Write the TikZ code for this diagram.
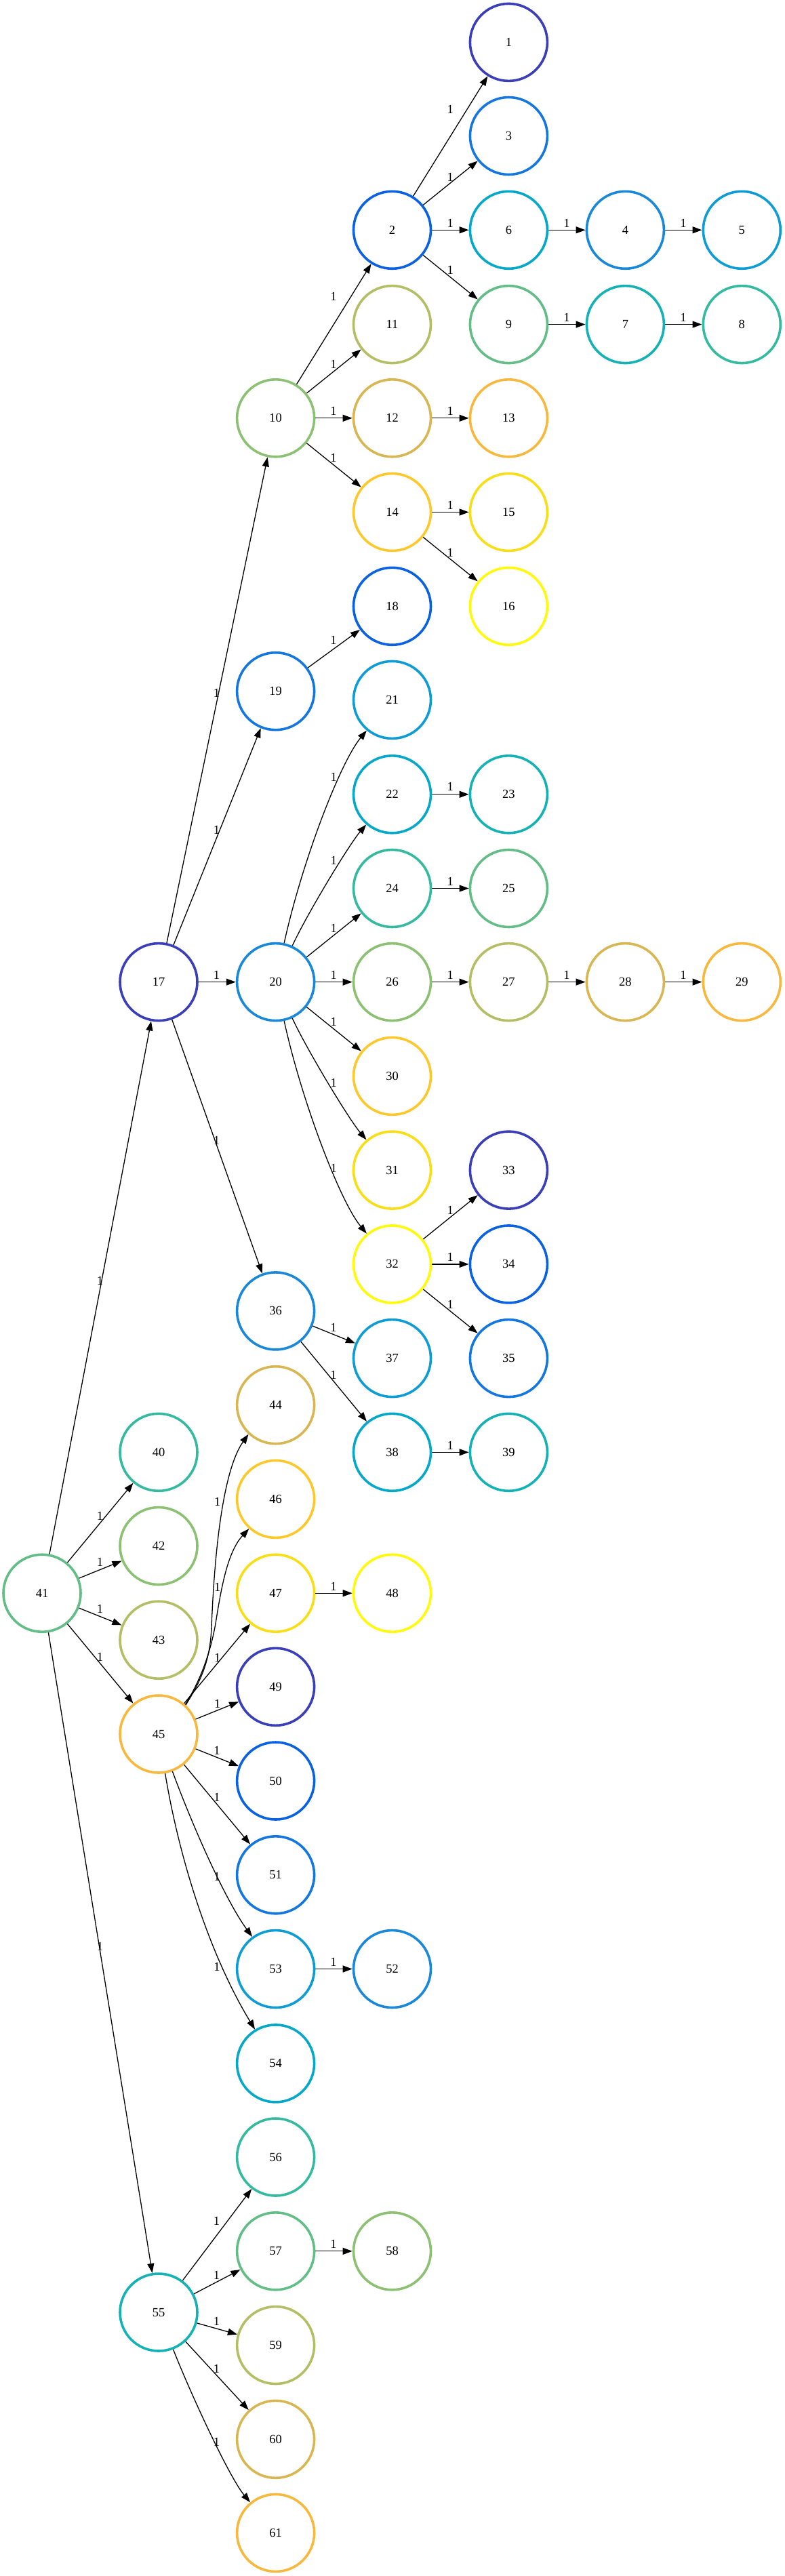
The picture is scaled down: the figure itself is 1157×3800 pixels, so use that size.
\documentclass[tikz,border=0pt]{standalone}
\usepackage{fontspec}
\setmainfont{Liberation Serif}
\usetikzlibrary{arrows.meta}
\definecolor{c1}{HTML}{3A3EB8}
\definecolor{c2}{HTML}{0A62E2}
\definecolor{c3}{HTML}{1476E0}
\definecolor{c4}{HTML}{1A88D8}
\definecolor{c5}{HTML}{0E9CD4}
\definecolor{c6}{HTML}{04A8C8}
\definecolor{c7}{HTML}{14B2B4}
\definecolor{c8}{HTML}{34BA9E}
\definecolor{c9}{HTML}{62BE86}
\definecolor{c10}{HTML}{8CC072}
\definecolor{c11}{HTML}{B4BE64}
\definecolor{c12}{HTML}{D8B652}
\definecolor{c13}{HTML}{F8B83E}
\definecolor{c14}{HTML}{FFC82A}
\definecolor{c15}{HTML}{F8DE14}
\definecolor{c16}{HTML}{FFFA0A}
\tikzset{
  nd/.style={circle, draw, line width=3.6pt, minimum size=114pt, inner sep=0pt, font=\fontsize{18.5}{21}\selectfont},
  conn/.style={line width=1.3pt, -{Triangle[length=14pt,width=10pt]}},
  lbl/.style={inner sep=0pt, font=\fontsize{18.5}{21}\selectfont},
}
\newcommand\mkn[4]{\node[nd, draw=#4] (n#1) at (#2,#3) {#1};}
\newcommand\se[4]{\draw[conn] (n#1) -- (n#2); \node[lbl] (e#1-#2) at (#3,#4) {1};}
\newcommand\ce[8]{\draw[conn] (n#1) .. controls (#3,#4) and (#5,#6) .. (n#2); \node[lbl] (e#1-#2) at (#7,#8) {1};}
\begin{document}
\begin{tikzpicture}[x=1pt,y=-1pt]
\useasboundingbox (0,0) rectangle (1157,3800);
% nodes
\mkn{1}{750.4}{62.4}{c1}
\mkn{3}{750.4}{200.5}{c3}
\mkn{2}{578.5}{339.3}{c2}
\mkn{6}{750.4}{339.3}{c6}
\mkn{4}{922.4}{339.3}{c4}
\mkn{5}{1094.3}{339.3}{c5}
\mkn{11}{578.5}{478.6}{c11}
\mkn{9}{750.4}{478.6}{c9}
\mkn{7}{922.4}{478.6}{c7}
\mkn{8}{1094.3}{478.6}{c8}
\mkn{10}{406.6}{616.8}{c10}
\mkn{12}{578.5}{616.8}{c12}
\mkn{13}{750.4}{616.8}{c13}
\mkn{14}{578.5}{755.5}{c14}
\mkn{15}{750.4}{755.5}{c15}
\mkn{18}{578.5}{894.3}{c2}
\mkn{16}{750.4}{894.3}{c16}
\mkn{19}{406.6}{1019.7}{c3}
\mkn{21}{578.5}{1032.4}{c5}
\mkn{22}{578.5}{1171.8}{c6}
\mkn{23}{750.4}{1171.8}{c7}
\mkn{24}{578.5}{1310.5}{c8}
\mkn{25}{750.4}{1310.5}{c9}
\mkn{17}{234}{1448.6}{c1}
\mkn{20}{406.6}{1448.6}{c4}
\mkn{26}{578.5}{1448.6}{c10}
\mkn{27}{750.4}{1448.6}{c11}
\mkn{28}{922.4}{1448.6}{c12}
\mkn{29}{1094.3}{1448.6}{c13}
\mkn{30}{578.5}{1587.4}{c14}
\mkn{31}{578.5}{1726.1}{c15}
\mkn{33}{750.4}{1726.1}{c1}
\mkn{32}{578.5}{1864.9}{c16}
\mkn{34}{750.4}{1864.9}{c2}
\mkn{36}{406.6}{1933.9}{c4}
\mkn{37}{578.5}{2003.6}{c5}
\mkn{35}{750.4}{2003.6}{c3}
\mkn{44}{406.6}{2072.7}{c12}
\mkn{40}{234}{2142.3}{c8}
\mkn{38}{578.5}{2142.3}{c6}
\mkn{39}{750.4}{2142.3}{c7}
\mkn{46}{406.6}{2211.4}{c14}
\mkn{42}{234}{2280.5}{c10}
\mkn{41}{62}{2350.2}{c9}
\mkn{47}{406.6}{2350.2}{c15}
\mkn{48}{578.5}{2350.2}{c16}
\mkn{43}{234}{2419.2}{c11}
\mkn{49}{406.6}{2488.3}{c1}
\mkn{45}{234}{2558}{c13}
\mkn{50}{406.6}{2627}{c2}
\mkn{51}{406.6}{2765.8}{c3}
\mkn{53}{406.6}{2904.5}{c5}
\mkn{52}{578.5}{2904.5}{c4}
\mkn{54}{406.6}{3043.9}{c6}
\mkn{56}{406.6}{3182}{c8}
\mkn{57}{406.6}{3320.8}{c9}
\mkn{58}{578.5}{3320.8}{c10}
\mkn{55}{234}{3411}{c7}
\mkn{59}{406.6}{3459.5}{c11}
\mkn{60}{406.6}{3598.3}{c12}
\mkn{61}{406.6}{3736.4}{c13}
% edges
\se{2}{1}{664.3}{161}
\se{2}{3}{664.3}{261}
\se{2}{6}{664.3}{329.3}
\se{6}{4}{836}{329.3}
\se{4}{5}{1008}{329.3}
\se{2}{9}{664.3}{398}
\se{9}{7}{836}{468}
\se{7}{8}{1008}{468}
\se{10}{2}{492}{437.4}
\se{10}{11}{492}{537.4}
\se{10}{12}{492}{606}
\se{12}{13}{664.3}{606}
\se{10}{14}{492}{675.5}
\se{14}{15}{664.3}{745}
\se{14}{16}{664.3}{815}
\se{19}{18}{492}{944}
\se{17}{10}{319.5}{1022.7}
\se{17}{19}{319.5}{1224.5}
\ce{20}{21}{445}{1273}{501.7}{1124.7}{492.3}{1146.6}
\ce{20}{22}{452}{1350}{514.5}{1246.4}{492.3}{1269.5}
\se{22}{23}{664.3}{1160.8}
\se{20}{24}{492.3}{1369.5}
\se{24}{25}{664.3}{1300.2}
\se{17}{20}{319.5}{1438}
\se{20}{26}{492.3}{1438}
\se{26}{27}{664.3}{1438}
\se{27}{28}{836}{1438}
\se{28}{29}{1008}{1438}
\se{20}{30}{492.3}{1507.6}
\ce{20}{31}{452}{1547.2}{514.5}{1650.8}{492.3}{1597.3}
\se{17}{36}{319.5}{1681.9}
\ce{20}{32}{445}{1624.2}{501.7}{1772.5}{492.3}{1723.8}
\se{32}{33}{664.3}{1784.9}
\se{32}{34}{664.3}{1854}
\se{32}{35}{664.3}{1924.2}
\se{36}{37}{492}{1958.8}
\se{36}{38}{492}{2028.4}
\se{38}{39}{664.3}{2132}
\se{41}{17}{147.6}{1889}
\se{41}{40}{147.6}{2236.3}
\se{41}{42}{147.6}{2304.7}
\se{41}{43}{147.6}{2373.8}
\se{41}{45}{147.6}{2444.1}
\se{41}{55}{147.6}{2871.2}
\draw[conn] (n45.47) .. controls (297,2478) and (310,2450) .. (312,2400) .. controls (318,2250) and (335,2160) .. (n44.227);
\node[lbl] (e45-44) at (320.7,2215.7) {1};
\draw[conn] (n45.48) .. controls (295,2480) and (310,2440) .. (318,2395) .. controls (326,2345) and (335,2290) .. (n46.228);
\node[lbl] (e45-46) at (320.7,2341) {1};
\se{45}{47}{320.7}{2445}
\se{47}{48}{492}{2340.5}
\se{45}{49}{320.7}{2513.3}
\se{45}{50}{320}{2582.8}
\se{45}{51}{320}{2651.7}
\ce{45}{53}{285.7}{2697.6}{332.7}{2803}{320}{2768.3}
\ce{45}{54}{265}{2745}{310}{2885}{320}{2901.7}
\se{53}{52}{492}{2894.2}
\se{55}{56}{319.5}{3275.9}
\se{55}{57}{319.5}{3355.9}
\se{57}{58}{492}{3310.5}
\se{55}{59}{319.5}{3424.4}
\se{55}{60}{319.5}{3494}
\ce{55}{61}{281.4}{3531.5}{338.2}{3654.2}{319.5}{3602.5}
\end{tikzpicture}
\end{document}
